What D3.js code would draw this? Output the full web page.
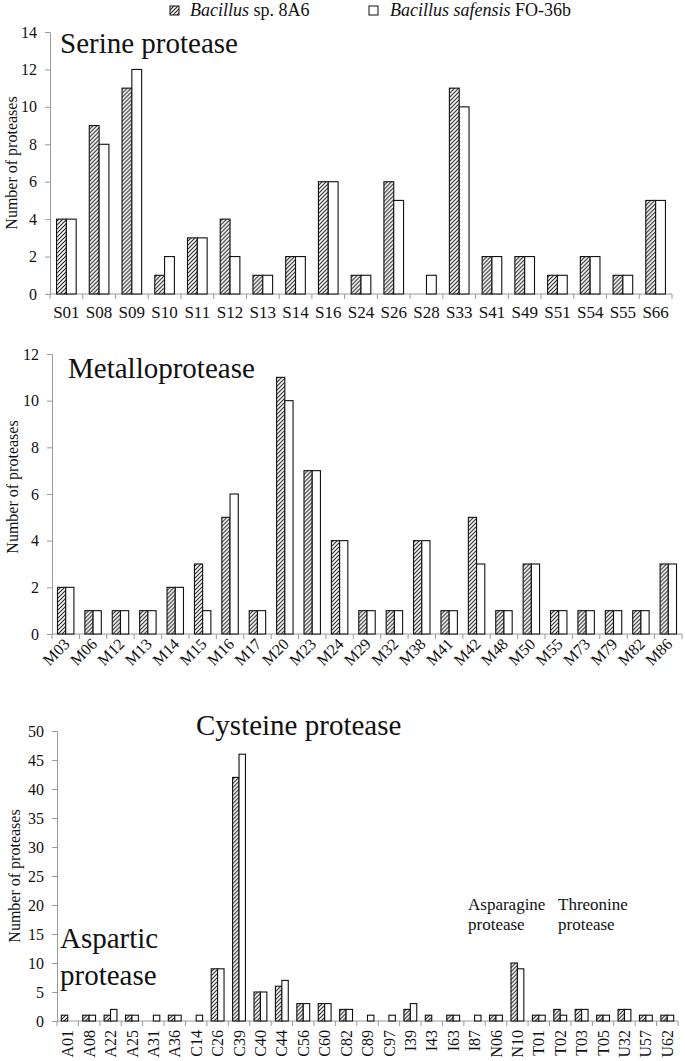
<!DOCTYPE html>
<html>
<head>
<meta charset="utf-8">
<script src="https://cdn.jsdelivr.net/npm/d3@7"></script>
<style>
  html, body { margin: 0; padding: 0; background: #fff; font-family: "Liberation Serif", serif; }
</style>
</head>
<body>
<svg id="chart" width="685" height="1061" font-family="Liberation Serif"></svg>
<script>
// ---------------- DATA ----------------
const seriesNames = ["Bacillus sp. 8A6", "Bacillus safensis FO-36b"];

const serineCats = ["S01","S08","S09","S10","S11","S12","S13","S14","S16","S24","S26","S28","S33","S41","S49","S51","S54","S55","S66"];
const serine8A6  = [4, 9, 11, 1, 3, 4, 1, 2, 6, 1, 6, 0, 11, 2, 2, 1, 2, 1, 5];
const serineFO36b= [4, 8, 12, 2, 3, 2, 1, 2, 6, 1, 5, 1, 10, 2, 2, 1, 2, 1, 5];
const serineTicks = [0, 2, 4, 6, 8, 10, 12, 14];

const metalloCats = ["M03","M06","M12","M13","M14","M15","M16","M17","M20","M23","M24","M29","M32","M38","M41","M42","M48","M50","M55","M73","M79","M82","M86"];
const metallo8A6  = [2, 1, 1, 1, 2, 3, 5, 1, 11, 7, 4, 1, 1, 4, 1, 5, 1, 3, 1, 1, 1, 1, 3];
const metalloFO36b= [2, 1, 1, 1, 2, 1, 6, 1, 10, 7, 4, 1, 1, 4, 1, 3, 1, 3, 1, 1, 1, 1, 3];
const metalloTicks = [0, 2, 4, 6, 8, 10, 12];

const otherCats = ["A01","A08","A22","A25","A31","A36","C14","C26","C39","C40","C44","C56","C60","C82","C89","C97","I39","I43","I63","I87","N06","N10","T01","T02","T03","T05","U32","U57","U62"];
const other8A6  = [1, 1, 1, 1, 0, 1, 0, 9, 42, 5, 6, 3, 3, 2, 0, 0, 2, 1, 1, 0, 1, 10, 1, 2, 2, 1, 2, 1, 1];
const otherFO36b= [0, 1, 2, 1, 1, 1, 1, 9, 46, 5, 7, 3, 3, 2, 1, 1, 3, 0, 1, 1, 1, 9, 1, 1, 2, 1, 2, 1, 1];
const otherTicks = [0, 5, 10, 15, 20, 25, 30, 35, 40, 45, 50];

const yTitle = "Number of proteases";

// ---------------- DRAWING ----------------
const FONT = "Liberation Serif";
const svg = d3.select("#chart");
const defs = svg.append("defs");
defs.append("pattern")
  .attr("id", "hatch")
  .attr("patternUnits", "userSpaceOnUse")
  .attr("width", 4).attr("height", 4)
  .call(p => {
    p.append("rect").attr("width", 4).attr("height", 4).attr("fill", "#fff");
    p.append("path")
      .attr("d", "M-1,1 l2,-2 M0,4 l4,-4 M3,5 l2,-2")
      .attr("stroke", "#222").attr("stroke-width", 1.1);
  });

const fills = ["url(#hatch)", "#fff"];
const axisColor = "#9a9a9a";

function panel(cfg) {
  const { cats, a, b, ticks, x0, x1, yTop, yBot, labelMode } = cfg;
  const g = svg.append("g");
  const x = d3.scaleBand().domain(cats).range([x0, x1]).padding(0);
  const xs = d3.scaleBand().domain([0, 1]).range([x.bandwidth() * 0.2, x.bandwidth() * 0.8]).padding(0);
  const y = d3.scaleLinear().domain([0, ticks[ticks.length - 1]]).range([yBot, yTop]);

  // y axis
  const yAx = d3.axisLeft(y).tickValues(ticks).tickSize(5).tickPadding(8).tickFormat(d3.format("d"));
  const yg = g.append("g").attr("transform", `translate(${x0},0)`).call(yAx);
  yg.attr("font-family", FONT).attr("font-size", 16);
  yg.select(".domain").attr("stroke", axisColor);
  yg.selectAll(".tick line").attr("stroke", axisColor);
  yg.selectAll(".tick text").attr("fill", "#111");

  // x axis line + boundary ticks
  g.append("line").attr("x1", x0).attr("x2", x1).attr("y1", yBot).attr("y2", yBot)
    .attr("stroke", axisColor);
  const bounds = cats.map(c => x(c)).concat([x1]);
  g.selectAll(".xt").data(bounds).join("line")
    .attr("x1", d => d).attr("x2", d => d)
    .attr("y1", yBot).attr("y2", yBot + 5)
    .attr("stroke", axisColor);

  // bars
  const rows = cats.map((c, i) => ({ c, v: [a[i], b[i]] }));
  const grp = g.selectAll(".grp").data(rows).join("g")
    .attr("transform", d => `translate(${x(d.c)},0)`);
  grp.selectAll("rect").data(d => d.v.map((v, k) => ({ v, k })).filter(e => e.v > 0)).join("rect")
    .attr("x", d => xs(d.k))
    .attr("width", xs.bandwidth())
    .attr("y", d => y(d.v))
    .attr("height", d => yBot - y(d.v))
    .attr("fill", d => fills[d.k])
    .attr("stroke", "#111")
    .attr("stroke-width", 1.1);

  // x labels
  const lab = g.selectAll(".xl").data(cats).join("text")
    .attr("fill", "#111")
    .attr("font-size", cfg.labelSize)
    .text(d => d);
  if (labelMode === "flat") {
    lab.attr("x", d => x(d) + x.bandwidth() / 2).attr("y", yBot + 24).attr("text-anchor", "middle");
  } else if (labelMode === "diag") {
    lab.attr("text-anchor", "end")
      .attr("transform", d => `translate(${x(d) + x.bandwidth() / 2 + 5},${yBot + 11}) rotate(-45)`);
  } else {
    lab.attr("text-anchor", "end").attr("dy", "0.35em")
      .attr("transform", d => `translate(${x(d) + x.bandwidth() / 2},${yBot + 9}) rotate(-90)`);
  }

  // y title
  g.append("text")
    .attr("transform", `translate(${cfg.yTitleX},${cfg.yTitleY}) rotate(-90)`)
    .attr("text-anchor", "middle").attr("dy", "0.35em")
    .attr("fill", "#111").attr("font-size", 16)
    .text(yTitle);
  return { x, y };
}

panel({ cats: serineCats, a: serine8A6, b: serineFO36b, ticks: serineTicks,
  x0: 50, x1: 672, yTop: 32, yBot: 294, labelMode: "flat", labelSize: 17,
  yTitleX: 11, yTitleY: 163 });
panel({ cats: metalloCats, a: metallo8A6, b: metalloFO36b, ticks: metalloTicks,
  x0: 52, x1: 682, yTop: 354, yBot: 634, labelMode: "diag", labelSize: 16,
  yTitleX: 12, yTitleY: 487 });
panel({ cats: otherCats, a: other8A6, b: otherFO36b, ticks: otherTicks,
  x0: 57, x1: 678, yTop: 731, yBot: 1021, labelMode: "vert", labelSize: 16,
  yTitleX: 14, yTitleY: 876 });

// panel titles / annotations
const big = [
  { t: "Serine protease", x: 60, y: 53 },
  { t: "Metalloprotease", x: 68, y: 378 },
  { t: "Cysteine protease", x: 196, y: 735 },
  { t: "Aspartic", x: 60, y: 948 },
  { t: "protease", x: 60, y: 985 }
];
svg.selectAll(".big").data(big).join("text")
  .attr("x", d => d.x).attr("y", d => d.y)
  .attr("fill", "#111").attr("font-size", 29)
  .text(d => d.t);
const small = [
  { t: "Asparagine", x: 468, y: 910 },
  { t: "protease", x: 468, y: 930 },
  { t: "Threonine", x: 558, y: 910 },
  { t: "protease", x: 558, y: 930 }
];
svg.selectAll(".small").data(small).join("text")
  .attr("x", d => d.x).attr("y", d => d.y)
  .attr("fill", "#111").attr("font-size", 17)
  .text(d => d.t);

// legend
const leg = svg.append("g");
const legItems = [
  { k: 0, bx: 170, tx: 190, italic: "Bacillus", rest: " sp. 8A6" },
  { k: 1, bx: 369, tx: 390, italic: "Bacillus safensis", rest: " FO-36b" }
];
legItems.forEach(d => {
  leg.append("rect").attr("x", d.bx).attr("y", 6).attr("width", 9).attr("height", 9)
    .attr("fill", fills[d.k]).attr("stroke", "#111").attr("stroke-width", 1);
  const t = leg.append("text").attr("x", d.tx).attr("y", 16).attr("fill", "#111").attr("font-size", 18);
  t.append("tspan").attr("font-style", "italic").text(d.italic);
  t.append("tspan").text(d.rest);
});

svg.selectAll("text, tspan").attr("font-family", FONT);
</script>
</body>
</html>
